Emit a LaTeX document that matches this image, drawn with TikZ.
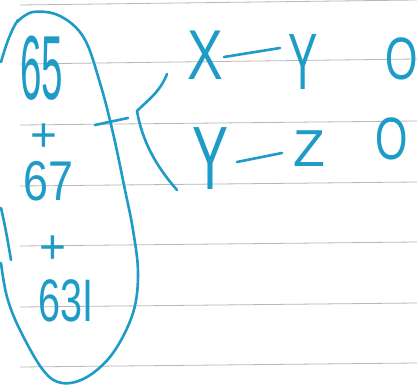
\documentclass[tikz,border=0pt]{standalone}
\usepackage{fontspec}
\setmainfont{Liberation Sans}
\definecolor{ink}{HTML}{1E9BC6}
\definecolor{rule}{HTML}{B8B8B8}
\newcommand\hwbox[3]{\scalebox{#1}[#2]{#3}}
\tikzset{
  hand/.style={text=ink, inner sep=0pt, anchor=base west},
  pen/.style={draw=ink, line width=2.6pt, line cap=round, line join=round},
  paperline/.style={draw=rule, line width=0.8pt}
}
\begin{document}
\begin{tikzpicture}[x=1pt,y=-1pt]
\useasboundingbox[fill=white] (0,0) rectangle (417,387);
% paper rules
\foreach \yl/\yr in {5/0,64/59,125/121,186/182,246/242,307/303,367/363}
  \draw[paperline] (20,\yl) -- (417,\yr);
% left column of text
\node[hand, font=\fontsize{70}{70}\selectfont] (n65) at (20,100) {\hwbox{0.55}{1.3}{65}};
\node[hand, font=\fontsize{40}{40}\selectfont, anchor=center] (p1) at (44,138) {\hwbox{1.15}{1.2}{+}};
\node[hand, font=\fontsize{56}{56}\selectfont] (n67) at (23,201) {\hwbox{0.8}{1}{67}};
\node[hand, font=\fontsize{40}{40}\selectfont, anchor=center] (p2) at (53,250) {\hwbox{1.15}{1.2}{+}};
\node[hand, font=\fontsize{60}{60}\selectfont] (n63) at (38,321) {\hwbox{0.66}{1}{63I}};
% loop around the sum
\draw[pen] plot[smooth, tension=0.6] coordinates {(17,22) (33,12) (60,16) (84,38) (100,83) (113,133) (125,190) (133,230) (138,273) (133,313) (113,353) (87,377) (62,383) (43,370) (20,330) (7,297) (1,263)};
\draw[pen] (1,62) .. controls (6,45) and (11,30) .. (18,20);
\draw[pen] (1,208) .. controls (5,225) and (8,242) .. (11,260);
% tick and bracket
\coordinate (t1) at (95,125);
\coordinate (t2) at (128,118);
\draw[pen] (t1) -- (t2);
\coordinate (b1) at (167,74);
\coordinate (b2) at (137,111);
\coordinate (b3) at (177,190);
\draw[pen] (b1) .. controls (160,92) and (148,100) .. (b2);
\draw[pen] (b2) .. controls (142,140) and (155,165) .. (b3);
% right: X - Y   O
\node[hand, font=\fontsize{63}{63}\selectfont] (X) at (187,80) {\hwbox{0.85}{1.12}{X}};
\node[hand, font=\fontsize{80}{80}\selectfont] (Y1) at (288,90) {\hwbox{0.55}{1}{Y}};
\node[hand, font=\fontsize{52}{52}\selectfont] (O1) at (385,80) {\hwbox{0.8}{1.15}{O}};
\coordinate (d1a) at (224,57);
\coordinate (d1b) at (280,48);
\draw[pen] (d1a) -- (d1b);
% right: Y - Z   O
\node[hand, font=\fontsize{90}{90}\selectfont] (Y2) at (192,190) {\hwbox{0.6}{1}{Y}};
\node[hand, font=\fontsize{52}{52}\selectfont] (Z) at (293,167) {Z};
\node[hand, font=\fontsize{52}{52}\selectfont] (O2) at (375,160) {\hwbox{0.8}{1.15}{O}};
\coordinate (d2a) at (237,162);
\coordinate (d2b) at (282,153);
\draw[pen] (d2a) -- (d2b);
\end{tikzpicture}
\end{document}
